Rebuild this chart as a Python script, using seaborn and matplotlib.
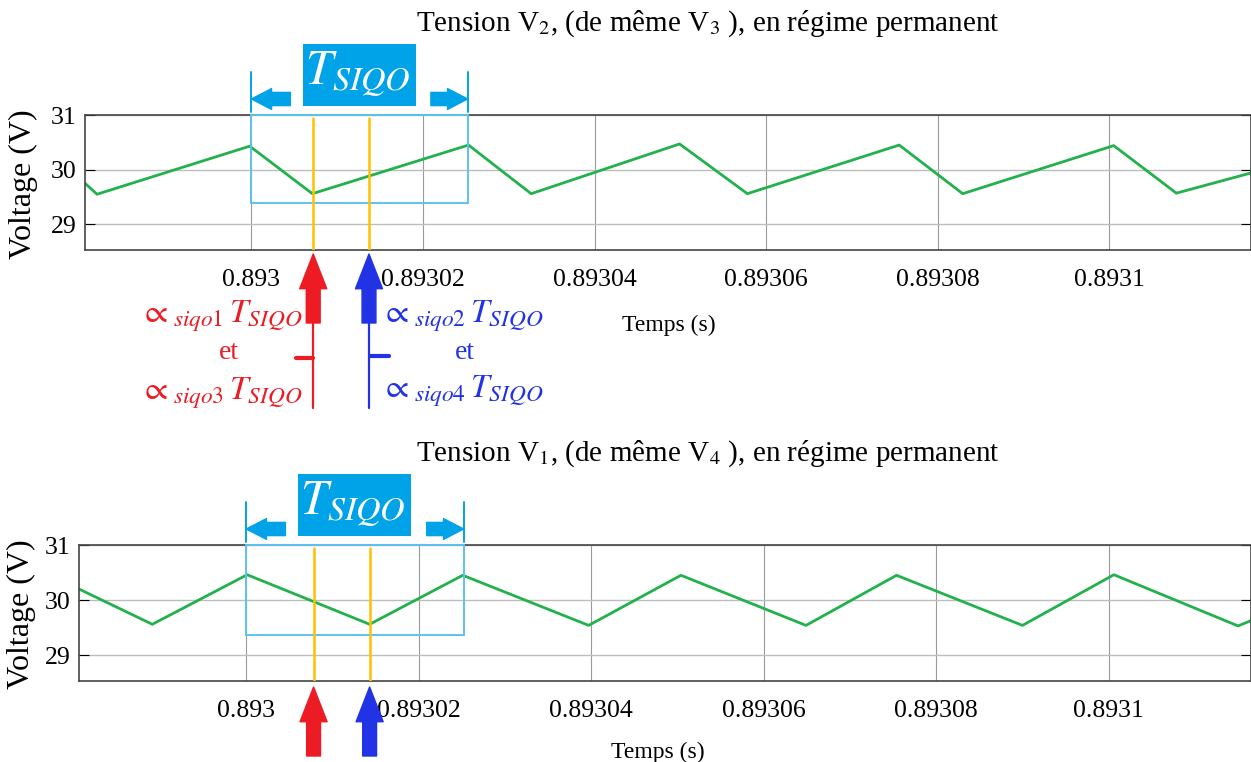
import pandas as pd
import seaborn as sns
import matplotlib.pyplot as plt
import matplotlib.transforms as mtransforms
from matplotlib.patches import Rectangle

sns.set_style('whitegrid')
plt.rcParams['font.family'] = ['Liberation Serif', 'DejaVu Serif']
plt.rcParams['mathtext.fontset'] = 'stix'
plt.rcParams['text.color'] = 'black'

# ---------------------------------------------------------------
# values
# ---------------------------------------------------------------
t_v2 = [0.8929806, 0.8929820, 0.8929998, 0.8930071, 0.8930253, 0.8930326, 0.8930499,
        0.8930578, 0.8930755, 0.8930829, 0.8931005, 0.8931078, 0.8931165]
v_v2 = [29.75, 29.55, 30.43, 29.56, 30.45, 29.56, 30.47, 29.56, 30.45, 29.56, 30.44, 29.57, 29.94]

t_v1 = [0.8929806, 0.8929891, 0.8930001, 0.8930143, 0.8930251, 0.8930397, 0.8930504,
        0.8930649, 0.8930754, 0.8930900, 0.8931006, 0.8931150, 0.8931167]
v_v1 = [30.20, 29.56, 30.46, 29.56, 30.45, 29.54, 30.45, 29.54, 30.45, 29.54, 30.46, 29.53, 29.64]

x_ticks = [0.893, 0.89302, 0.89304, 0.89306, 0.89308, 0.8931]
x_ticklabels = ['0.893', '0.89302', '0.89304', '0.89306', '0.89308', '0.8931']
y_ticks = [29, 30, 31]
x_range = (0.8929806, 0.8931165)
y_range = (28.53, 31)

titles = ['Tension V$_2$, (de même V$_3$ ), en régime permanent',
          'Tension V$_1$, (de même V$_4$ ), en régime permanent']

t_start = 0.893          # start of the T_SIQO window
T_siqo = 2.52e-5         # width of the window
box_low = [29.39, 29.37]  # lower edge of the window frame
alpha_t = [[0.8930072, 0.8930137], [0.8930078, 0.8930143]]

green = '#22b14c'
cyan = '#00a2e8'
red = '#ed1c24'
blue = '#2233e6'
gold = '#ffc000'

# ---------------------------------------------------------------
W, H = 1251, 762
fig = plt.figure(figsize=(W / 100, H / 100), dpi=100)


def fy(y):
    # pixel row (from top) -> figure fraction
    return 1 - y / H


ax1 = fig.add_axes([85 / W, fy(250), (W - 85) / W, 135 / H])
ax2 = fig.add_axes([79 / W, fy(681), (W - 79) / W, 136 / H])

for i, (ax, t, v) in enumerate([(ax1, t_v2, v_v2), (ax2, t_v1, v_v1)]):
    df = pd.DataFrame({'t': t, 'v': v})
    sns.lineplot(data=df, x='t', y='v', ax=ax, color=green, lw=2)
    ax.set_xlim(x_range)
    ax.set_ylim(y_range)
    ax.set_xticks(x_ticks)
    ax.set_xticklabels(x_ticklabels)
    ax.set_yticks(y_ticks)
    ax.set_xlabel('')
    ax.set_ylabel('')
    ax.xaxis.grid(True, color='#9a9a9a', lw=0.8)
    ax.yaxis.grid(True, color='#bdbdbd', lw=1.0)
    ax.tick_params(axis='x', labelsize=18.5, pad=14, length=0, colors='black')
    ax.tick_params(axis='y', labelsize=18.5, pad=6, direction='in', length=7,
                   left=True, right=True, colors='black')
    for sp in ax.spines.values():
        sp.set_color('#444444')
        sp.set_linewidth(1.2)

    # window frame and alpha instants
    ax.add_patch(Rectangle((t_start, box_low[i]), T_siqo, 31 - box_low[i], fill=False,
                           ec='#5cc2f0', lw=1.4, clip_on=False, zorder=3))
    for ta in alpha_t[i]:
        ax.axvline(ta, ymin=0, ymax=0.98, color=gold, lw=1.8, zorder=3)

# ---------------------------------------------------------------
# annotations around the axes
# ---------------------------------------------------------------
fat = 'simple,head_length=2.5,head_width=1.95,tail_width=1.0'
thin = 'simple,head_length=1.45,head_width=1.5,tail_width=0.95'

for i, ax in enumerate([ax1, ax2]):
    blend = mtransforms.blended_transform_factory(ax.transData, fig.transFigure)
    off = 0 if i == 0 else 430
    t_end = t_start + T_siqo

    # T_SIQO double arrow with label box
    for tx in (t_start, t_end):
        ax.plot([tx, tx], [fy(off + 72), fy(off + 112)], transform=blend,
                color=cyan, lw=1.4, clip_on=False)
    ax.annotate('', xy=(t_start, fy(off + 99)), xytext=(t_start + 0.18 * T_siqo, fy(off + 99)),
                xycoords=blend, textcoords=blend, annotation_clip=False,
                arrowprops=dict(arrowstyle=thin, color=cyan, shrinkA=0, shrinkB=0, mutation_scale=10))
    ax.annotate('', xy=(t_end, fy(off + 99)), xytext=(t_end - 0.17 * T_siqo, fy(off + 99)),
                xycoords=blend, textcoords=blend, annotation_clip=False,
                arrowprops=dict(arrowstyle=thin, color=cyan, shrinkA=0, shrinkB=0, mutation_scale=10))
    ax.add_patch(Rectangle((t_start + 0.24 * T_siqo, fy(off + 106)), 0.52 * T_siqo, 62 / H,
                           transform=blend, fc=cyan, ec='none', clip_on=False))
    ax.text(t_start + 0.49 * T_siqo, fy(off + 74), '$T_{SIQO}$', transform=blend,
            ha='center', va='center', color='white', fontsize=35)

    # title
    fig.text(708 / W, fy(off + 24), titles[i], ha='center', va='center', fontsize=21)

    # red / blue up-arrows under the axis
    top = off + 254 if i == 0 else off + 257
    for ta, c in zip(alpha_t[i], (red, blue)):
        ax.annotate('', xy=(ta, fy(top)), xytext=(ta, fy(top + 69)),
                    xycoords=blend, textcoords=blend, annotation_clip=False,
                    arrowprops=dict(arrowstyle=fat, color=c, shrinkA=0, shrinkB=0, mutation_scale=10))

    fig.text(23 / W if i == 0 else 21 / W, fy(off + 184), 'Voltage (V)', rotation=90,
             ha='center', va='center', fontsize=23)

fig.text(669 / W, fy(325), 'Temps (s)', ha='center', va='center', fontsize=17)
fig.text(658 / W, fy(752), 'Temps (s)', ha='center', va='center', fontsize=17)

# texts for the alpha instants (top panel only)
blend = mtransforms.blended_transform_factory(ax1.transData, fig.transFigure)
ta_r, ta_b = alpha_t[0]
ax1.plot([ta_r, ta_r], [fy(323), fy(408)], transform=blend, color=red, lw=1.6, clip_on=False)
ax1.plot([ta_b, ta_b], [fy(323), fy(408)], transform=blend, color=blue, lw=1.6, clip_on=False)
fig.lines.append(plt.Line2D([296 / W, 313 / W], [fy(358), fy(358)], color=red, lw=3,
                            transform=fig.transFigure))
fig.lines.append(plt.Line2D([370 / W, 389 / W], [fy(356), fy(356)], color=blue, lw=3,
                            transform=fig.transFigure))

fig.text(302 / W, fy(316), r'$\propto_{siqo1}\,T_{SIQO}$', ha='right', va='center', color=red, fontsize=24)
fig.text(229 / W, fy(353), 'et', ha='center', va='center', color=red, fontsize=20)
fig.text(302 / W, fy(393), r'$\propto_{siqo3}\,T_{SIQO}$', ha='right', va='center', color=red, fontsize=24)
fig.text(381 / W, fy(316), r'$\propto_{siqo2}\,T_{SIQO}$', ha='left', va='center', color=blue, fontsize=24)
fig.text(465 / W, fy(353), 'et', ha='center', va='center', color=blue, fontsize=20)
fig.text(381 / W, fy(391), r'$\propto_{siqo4}\,T_{SIQO}$', ha='left', va='center', color=blue, fontsize=24)

fig.savefig('out.png', dpi=100, facecolor='white')
